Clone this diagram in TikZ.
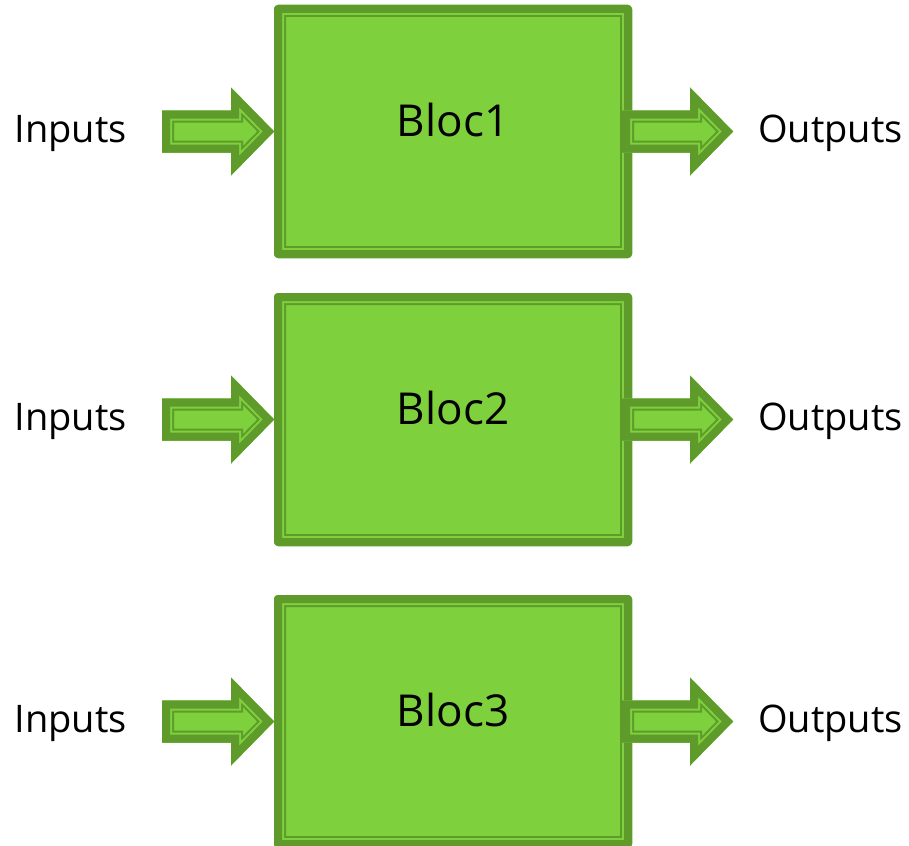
\documentclass[tikz,border=0pt]{standalone}
\usepackage{fontspec}
\setmainfont{Open Sans}
\usetikzlibrary{calc}

\definecolor{blocfill}{RGB}{126,209,61}
\definecolor{blocedge}{RGB}{94,155,43}

% fat arrow outline, tail at \p1, tip at \p2
\newcommand\fatarrowpath{(\x1,\y1+21bp) -- (\x2-43bp,\y1+21bp) -- (\x2-43bp,\y1+44bp) -- (\x2,\y1)
  -- (\x2-43bp,\y1-44bp) -- (\x2-43bp,\y1-21bp) -- (\x1,\y1-21bp) -- cycle}

\newcommand\fatarrow[2]{%
  \path[fill=blocfill, path picture={
      \foreach \lw/\col in {24bp/blocedge,20bp/blocfill,16bp/blocedge}
        \draw[line width=\lw, draw=\col] let \p1=#1, \p2=#2 in \fatarrowpath;}]
    let \p1=#1, \p2=#2 in \fatarrowpath;}

\tikzset{
  bloc/.style={rectangle, rounded corners=4bp, fill=blocfill, inner sep=0pt, outer sep=0pt,
    minimum width=358bp, minimum height=253bp,
    path picture={
      \foreach \lw/\col in {24bp/blocedge,20bp/blocfill,16bp/blocedge}
        \draw[line width=\lw, draw=\col, rounded corners=4bp]
          (path picture bounding box.north west) rectangle (path picture bounding box.south east);}},
  blocname/.style={inner sep=0pt, font=\fontsize{44bp}{48bp}\selectfont},
  side/.style={inner sep=0pt, font=\fontsize{38bp}{42bp}\selectfont}
}

\begin{document}
\begin{tikzpicture}[x=1bp,y=-1bp]
  \useasboundingbox (0,0) rectangle (909,846);

  \foreach \i/\y in {1/131.5, 2/419.5, 3/721.5}{
    \node[bloc] (box\i) at (453,\y) {};
    \node[blocname] (name\i) at ([yshift=11.5bp]box\i.center) {Bloc\i};

    \node[side, anchor=base east] (in\i) at (127,\y+11) {Inputs};
    \node[side, anchor=base west] (out\i) at (758,\y+11) {Outputs};

    \fatarrow{($(in\i.east |- box\i.west)+(35,0)$)}{(box\i.west)}
    \fatarrow{($(box\i.east)+(-10,0)$)}{($(out\i.west |- box\i.east)+(-25,0)$)}
  }
\end{tikzpicture}
\end{document}
